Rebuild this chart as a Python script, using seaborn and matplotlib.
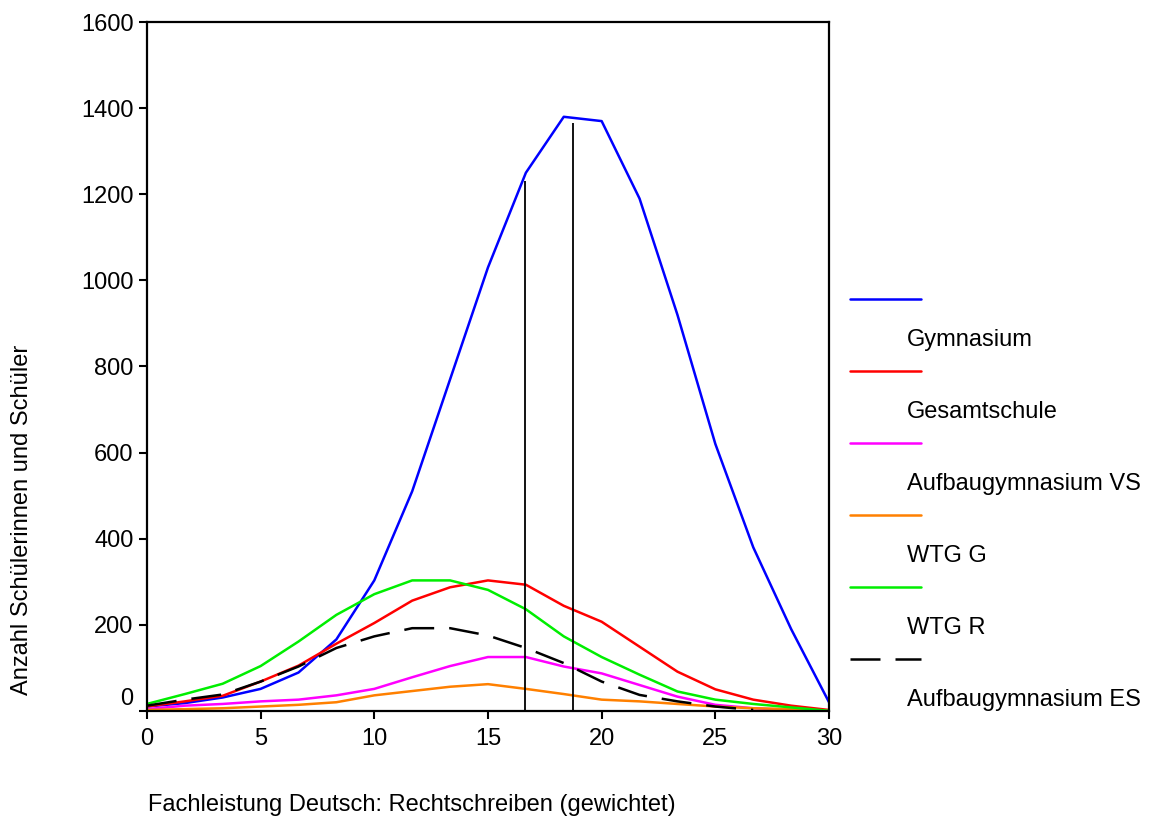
import numpy as np
import pandas as pd
import matplotlib
matplotlib.use("Agg")
import matplotlib.pyplot as plt
import matplotlib.transforms as mtransforms
from matplotlib.lines import Line2D
import seaborn as sns

# punkte (x in Schritten von 30/18)
punkte = np.linspace(0, 30, 19)

gymnasium = [10, 18, 31, 51, 89, 166, 303, 510, 770, 1030, 1250, 1380, 1370, 1190, 920, 620, 380, 190, 20]
gesamtschule = [10, 22, 35, 68, 105, 156, 204, 256, 287, 303, 293, 244, 207, 149, 91, 50, 26, 12, 2]
aufbau_vs = [4, 12, 16, 22, 26, 36, 51, 78, 104, 125, 125, 103, 87, 60, 33, 14, 6, 2, 0]
wtg_g = [2, 4, 6, 10, 14, 20, 36, 46, 56, 62, 51, 39, 26, 22, 16, 10, 6, 4, 0]
wtg_r = [16, 39, 63, 104, 161, 223, 271, 303, 303, 281, 236, 173, 125, 84, 45, 26, 16, 8, 0]
aufbau_es = [12, 26, 38, 68, 103, 146, 173, 192, 192, 175, 146, 111, 68, 37, 22, 10, 2, None, None]

mittelwerte = [16.63, 18.72]
mittel_hoehe = [1230, 1365]

labels = ["Gymnasium", "Gesamtschule", "Aufbaugymnasium VS", "WTG G", "WTG R", "Aufbaugymnasium ES"]
farben = ["#0000ff", "#ff0000", "#ff00ff", "#ff8000", "#00ee00", "black"]
reihen = [gymnasium, gesamtschule, aufbau_vs, wtg_g, wtg_r, aufbau_es]

sns.set_style("white")
plt.rcParams["font.family"] = ["Liberation Sans", "DejaVu Sans"]
plt.rcParams["text.color"] = "black"
plt.rcParams["xtick.color"] = "black"
plt.rcParams["ytick.color"] = "black"
fs = 17
lw = 1.8

fig = plt.figure(figsize=(11.66, 8.18), dpi=100)
ax = fig.add_axes([0.126, 0.131, 0.585, 0.842])

for name, werte, farbe in zip(labels, reihen, farben):
    df = pd.DataFrame({"x": punkte, "y": werte}).dropna()
    sns.lineplot(data=df, x="x", y="y", color=farbe, lw=lw, ax=ax)
    if name == "Aufbaugymnasium ES":
        ax.lines[-1].set_dashes((12, 6))

ax.vlines(mittelwerte, 0, mittel_hoehe, colors="black", lw=1.3)

ax.set_xlim(0, 30)
ax.set_ylim(0, 1600)
ax.set_xticks([0, 5, 10, 15, 20, 25, 30])
ax.set_yticks(range(0, 1601, 200))
ax.set_xlabel("")
ax.set_ylabel("")
ax.tick_params(axis="both", direction="out", length=6, width=1.5, labelsize=fs,
               left=True, bottom=True, color="black", labelcolor="black")
ax.tick_params(axis="x", pad=6)
for s in ax.spines.values():
    s.set_color("black")
    s.set_linewidth(1.6)

# "0" der y-Achse sitzt im Original etwas hoeher
fig.canvas.draw()
null = ax.get_yticklabels()[0]
null.set_transform(null.get_transform() + mtransforms.ScaledTranslation(0, 14 / 100, fig.dpi_scale_trans))

fig.text(22 / 1166, 1 - 520 / 818, "Anzahl Schülerinnen und Schüler",
         fontsize=fs, rotation=90, ha="center", va="center")
fig.text(148 / 1166, 1 - 805 / 818, "Fachleistung Deutsch: Rechtschreiben (gewichtet)",
         fontsize=fs, ha="left", va="center")

# Legende (Linie oben, Text darunter versetzt)
for i, (name, farbe) in enumerate(zip(labels, farben)):
    y_line = 1 - (299 + 72 * i) / 818
    y_text = 1 - (340 + 72 * i) / 818
    l = Line2D([850 / 1166, 921 / 1166], [y_line, y_line], color=farbe, lw=lw,
               transform=fig.transFigure)
    if name == "Aufbaugymnasium ES":
        l.set_dashes((12, 6))
    fig.add_artist(l)
    fig.text(907 / 1166, y_text, name, fontsize=fs, ha="left", va="center")

fig.savefig("out.png", dpi=100)
